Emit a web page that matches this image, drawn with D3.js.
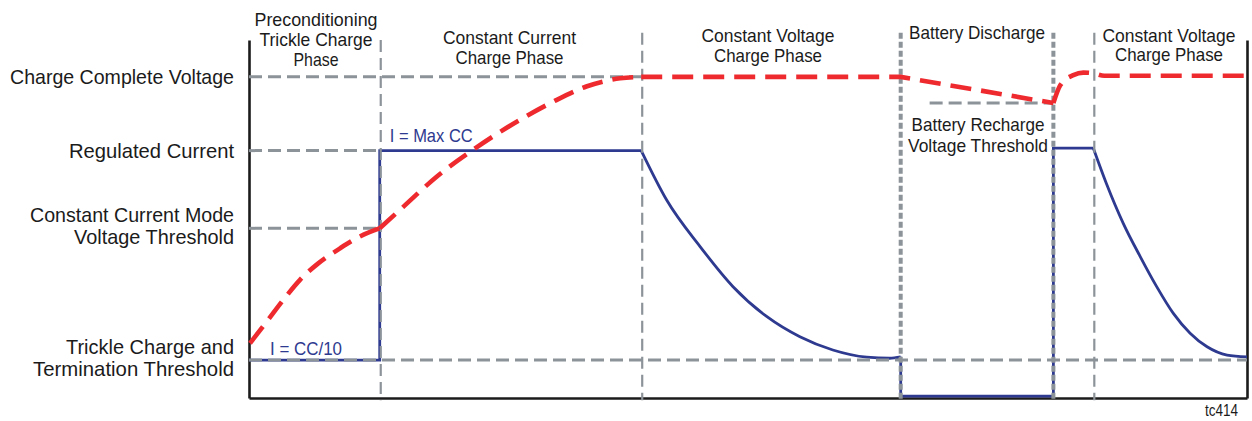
<!DOCTYPE html>
<html><head><meta charset="utf-8">
<script src="https://cdn.jsdelivr.net/npm/d3@7"></script>
<style>body{margin:0;background:#fff}svg{display:block}</style>
</head><body><svg id="c" width="1252" height="421"></svg>
<script>
// ---------------- DATA ----------------
// time axis: 0..100 (arbitrary units), level axis: 0..100 (arbitrary units)
const levelValues = [89.7, 69.1, 47.4, 10.6];
const levelLabels = [["Charge Complete Voltage"], ["Regulated Current"], ["Constant Current Mode", "Voltage Threshold"], ["Trickle Charge and", "Termination Threshold"]];

// reference (gray dashed) level lines: [level, tStart, tEnd]
const refLevels = [[89.7, 0, 39.3], [69.1, 0, 13.1], [47.4, 0, 13.1], [10.6, 0, 100], [82.4, 68.2, 80.6]];

// phase boundaries (time) and their top (level)
const boundaryTimes = [13.1, 39.3, 65.3, 80.6, 84.6];
const boundaryTops = [100, 102, 102, 102, 102];

const phaseLabels = [["Preconditioning", "Trickle Charge", "Phase"], ["Constant Current", "Charge Phase"], ["Constant Voltage", "Charge Phase"], ["Battery Discharge"], ["Constant Voltage", "Charge Phase"], ["Battery Recharge", "Voltage Threshold"]];

// charge current (blue)
const currentPre = [[0, 10.6], [13.1, 10.6], [13.1, 69.1], [39.3, 69.1]];
const currentCV1 = [[39.3, 69.1], [41.85, 55.3], [45.2, 42.3], [48.5, 31.1], [51.9, 22.7], [55.2, 17.1], [58.5, 13.4], [61.9, 11.4], [64.2, 11.1], [65.3, 11.5]];
const currentDis = [[65.3, 11.5], [65.3, 0.5], [80.6, 0.5], [80.6, 69.8], [84.6, 69.8]];
const currentCV2 = [[84.6, 69.8], [85.9, 60.0], [87.6, 48.8], [89.3, 39.5], [90.95, 31.1], [92.6, 23.7], [94.3, 18.1], [96.0, 14.3], [98.0, 12.0], [100, 11.5]];

// battery voltage (red dashed)
const voltagePre = [[0.1, 15.3], [1.77, 21.3], [3.44, 27.4], [5.11, 33.0], [6.94, 37.6], [9.12, 41.8], [11.1, 45.1], [13.1, 47.4]];
const voltageCC = [[13.1, 47.4], [15.46, 53.4], [18.8, 61.8], [22.8, 70.0], [27.15, 77.7], [30.5, 82.8], [33.8, 87.0], [37.2, 89.3], [39.3, 89.7]];
const voltageHold = [[39.3, 89.7], [65.3, 89.7], [80.6, 82.4]];
const voltageRe = [[80.6, 82.4], [81.3, 87.4], [82.6, 90.2], [83.6, 90.9], [84.6, 90.7], [85.7, 90.0], [100, 90.0]];

const annotations = ["I = Max CC", "I = CC/10"];
const figId = "tc414";

// ---------------- LAYOUT / STYLE ----------------
const FONT = "'Liberation Sans Narrow','Arial Narrow','Liberation Sans',Arial,sans-serif";
const INK = "#1b1b1b", GRAY = "#8c9399", RED = "#ee2a2f", BLUE = "#2e3a8f";
const svg = d3.select("#c");
const x = d3.scaleLinear().domain([0, 100]).range([249, 1247]);
const y = d3.scaleLinear().domain([0, 100]).range([398, 40]);
const line = d3.line().x(d => x(d[0])).y(d => y(d[1]));
const smooth = d3.line().x(d => x(d[0])).y(d => y(d[1])).curve(d3.curveMonotoneX);

// label widths (px) for condensed look
const leftW = [[224], [165], [204, 160], [168, 201]];
const phaseW = [[123, 113, 45], [133, 108], [133, 108], [136], [133, 108], [133, 140]];
const phasePos = [[316, 26, 20], [509.5, 44, 20], [768, 42.3, 19.5], [977, 39.3, 20], [1169, 41.7, 19.5], [978, 131, 20.5]];
const phaseSize = 18.5;

function txt(g, s, px, py, w, size, anchor, color) {
  return g.append("text").attr("x", px).attr("y", py).attr("text-anchor", anchor)
    .attr("font-family", FONT).attr("font-size", size).attr("fill", color || INK)
    .attr("textLength", w).attr("lengthAdjust", "spacingAndGlyphs").text(s);
}

// axes
const gl = svg.append("g").attr("transform", `translate(${x(0)},0)`)
  .call(d3.axisLeft(y).tickValues(levelValues).tickSize(0).tickSizeOuter(0).tickPadding(15).tickFormat(""));
gl.selectAll(".tick").each(function (d, i) {
  const t = d3.select(this);
  t.select("text").remove();
  const lines = levelLabels[i];
  const n = lines.length;
  lines.forEach((s, j) => txt(t, s, -15, 6.5 - (n - 1) * 13.5 + j * 22, leftW[i][j], 21, "end"));
});
svg.append("g").attr("transform", `translate(0,${y(0)})`)
  .call(d3.axisBottom(x).tickValues([]).tickSizeOuter(0));
svg.append("g").attr("transform", `translate(${x(100)},0)`)
  .call(d3.axisRight(y).tickValues([]).tickSizeOuter(0));
svg.selectAll(".domain").attr("stroke", INK).attr("stroke-width", 2.6);

// blue current
svg.append("path").attr("d", line(currentPre)).attr("fill", "none").attr("stroke", BLUE).attr("stroke-width", 2.8);
svg.append("path").attr("d", smooth(currentCV1)).attr("fill", "none").attr("stroke", BLUE).attr("stroke-width", 2.8);
svg.append("path").attr("d", line(currentDis)).attr("fill", "none").attr("stroke", BLUE).attr("stroke-width", 2.8);
svg.append("path").attr("d", smooth(currentCV2)).attr("fill", "none").attr("stroke", BLUE).attr("stroke-width", 2.8);

// gray reference levels
refLevels.forEach(r => {
  svg.append("line").attr("x1", x(r[1])).attr("x2", x(r[2])).attr("y1", y(r[0])).attr("y2", y(r[0]))
    .attr("stroke", GRAY).attr("stroke-width", 3).attr("stroke-dasharray", "13,6");
});
// phase boundaries
const heavy = [false, false, true, true, false];
boundaryTimes.forEach((t, i) => {
  svg.append("line").attr("x1", x(t) + (heavy[i] ? 0 : 1)).attr("x2", x(t) + (heavy[i] ? 0 : 1))
    .attr("y1", y(boundaryTops[i])).attr("y2", y(-0.6))
    .attr("stroke", GRAY).attr("stroke-width", heavy[i] ? 4 : 2.2)
    .attr("stroke-dasharray", heavy[i] ? "6,3" : "12,6");
});

// red voltage
[[voltagePre, smooth], [voltageCC, smooth], [voltageHold, line], [voltageRe, smooth]].forEach(([d, gen]) => {
  svg.append("path").attr("d", gen(d)).attr("fill", "none").attr("stroke", RED)
    .attr("stroke-width", 4.6).attr("stroke-dasharray", "21,10");
});

// phase labels
phaseLabels.forEach((lines, i) => {
  const p = phasePos[i];
  lines.forEach((s, j) => txt(svg, s, p[0], p[1] + j * p[2], phaseW[i][j], phaseSize, "middle"));
});

// annotations
txt(svg, annotations[0], x(13.1) + 10, y(69.1) - 9, 83, 18.5, "start", BLUE);
txt(svg, annotations[1], x(0) + 21, y(10.6) - 5, 72, 18.5, "start", BLUE);
txt(svg, figId, 1238, 416, 33, 16, "end");
</script></body></html>
